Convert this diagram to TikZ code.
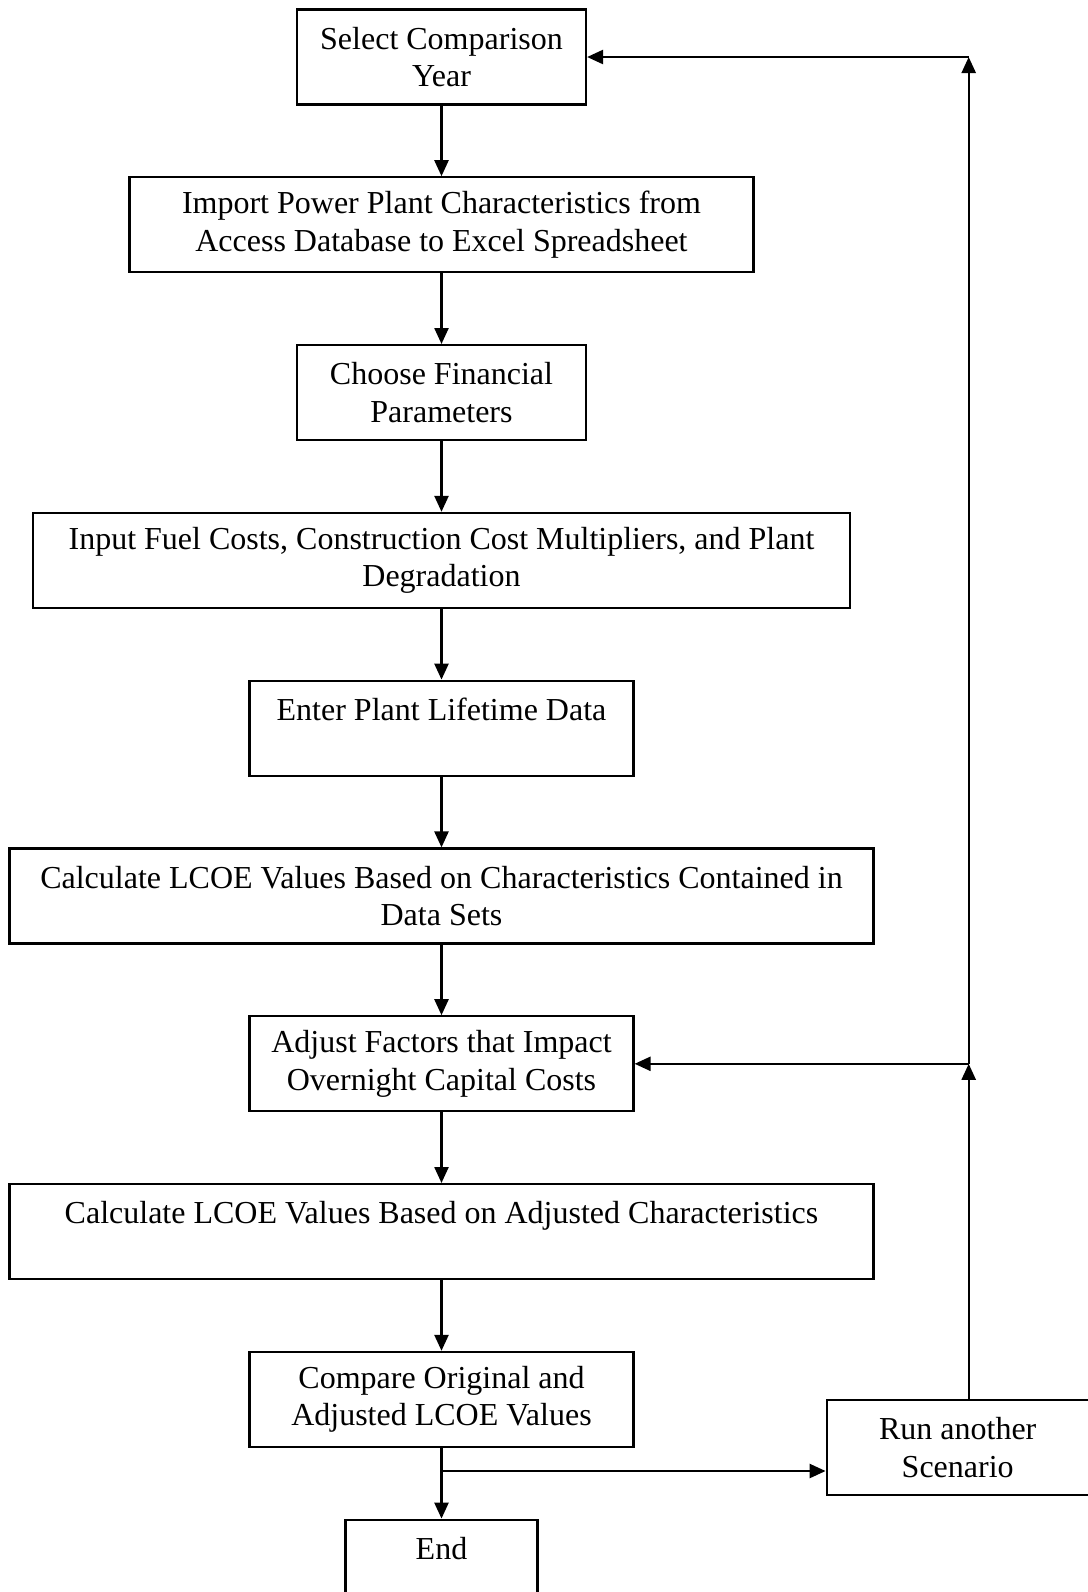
\documentclass[tikz,border=0pt]{standalone}
\usepackage{fontspec}
\setmainfont{Liberation Serif}
\usetikzlibrary{arrows.meta, positioning}

\begin{document}
\begin{tikzpicture}[
    box/.style={rectangle, draw=black, line width=1.1pt, minimum height=47.5pt, inner sep=0pt, align=center, font=\fontsize{16}{18.8}\selectfont},
    line/.style={draw=black, line width=1.2pt},
    arrow/.style={line, -{Triangle[length=8pt, width=7pt]}},
    node distance=35.3pt
]
    \clip (0,0) rectangle (544pt,-796pt);

    % --- Main steps ---
    \node [box, minimum width=144.5pt] (year) at (220.75pt,-28.5pt) {Select Comparison\\Year};
    \node [box, minimum width=312pt, below=of year] (import) {Import Power Plant Characteristics from\\Access Database to Excel Spreadsheet};
    \node [box, minimum width=144.5pt, below=of import] (finance) {Choose Financial\\Parameters};
    \node [box, minimum width=408.5pt, below=of finance] (fuel) {Input Fuel Costs, Construction Cost Multipliers, and Plant\\Degradation};
    \node [box, minimum width=192pt, below=of fuel] (lifetime) {Enter Plant Lifetime Data\\\mbox{}};
    \node [box, minimum width=432pt, below=of lifetime] (calc1) {Calculate LCOE Values Based on Characteristics Contained in\\Data Sets};
    \node [box, minimum width=192pt, below=of calc1] (adjust) {Adjust Factors that Impact\\Overnight Capital Costs};
    \node [box, minimum width=432pt, below=of adjust] (calc2) {Calculate LCOE Values Based on Adjusted Characteristics\\\mbox{}};
    \node [box, minimum width=192pt, below=of calc2] (compare) {Compare Original and\\Adjusted LCOE Values};
    \node [box, minimum width=96pt, below=of compare] (end) {End\\\mbox{}};

    % --- Loop back ---
    \node [box, minimum width=131pt, right=95.5pt of compare, yshift=-24pt] (run) {Run another\\Scenario};

    \coordinate (split) at ([yshift=-11.5pt]compare.south);
    \coordinate (loop) at ([xshift=5.5pt]run.north);

    % --- Connections ---
    \path [arrow] (year) -- (import);
    \path [arrow] (import) -- (finance);
    \path [arrow] (finance) -- (fuel);
    \path [arrow] (fuel) -- (lifetime);
    \path [arrow] (lifetime) -- (calc1);
    \path [arrow] (calc1) -- (adjust);
    \path [arrow] (adjust) -- (calc2);
    \path [arrow] (calc2) -- (compare);
    \path [arrow] (compare) -- (end);
    \path [arrow] (split) -- (split -| run.west);

    % Scenario loop
    \path [arrow] (loop) -- (loop |- adjust.east);
    \path [arrow] (loop |- adjust.east) -- (loop |- year.east);
    \path [arrow] (loop |- adjust.east) -- (adjust.east);
    \path [arrow] (loop |- year.east) -- (year.east);

\end{tikzpicture}
\end{document}
